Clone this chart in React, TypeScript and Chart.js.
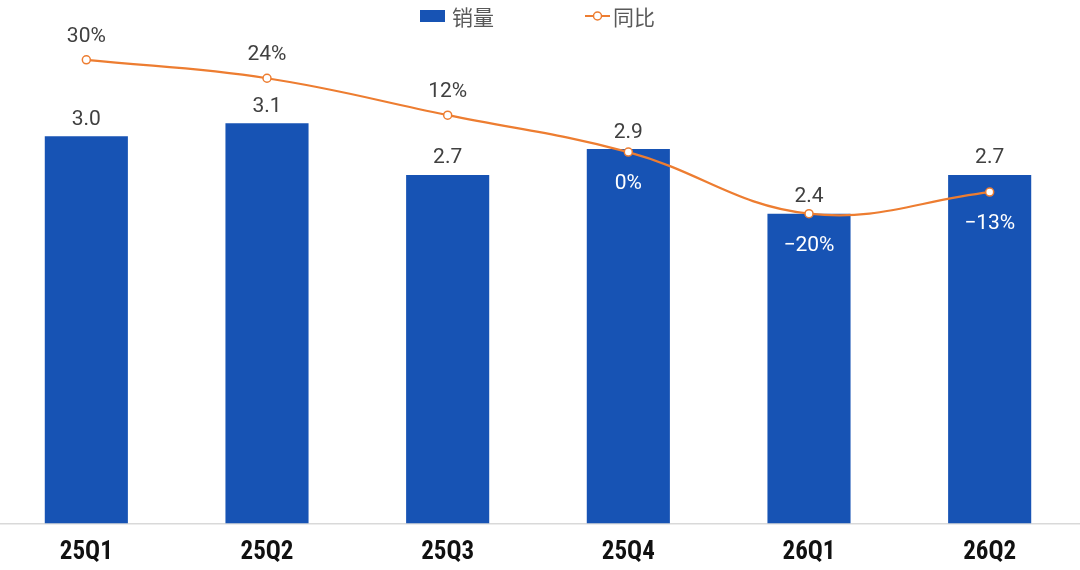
import { useEffect, useRef } from "react";
import { Chart, registerables } from "chart.js";

Chart.register(...registerables);

// ---- data ----
const categories = ["25Q1", "25Q2", "25Q3", "25Q4", "26Q1", "26Q2"];
const salesValues = [3.0, 3.1, 2.7, 2.9, 2.4, 2.7];
const yoyValues = [30, 24, 12, 0, -20, -13];
const seriesNames = ["销量", "同比"];

// ---- style ----
const BAR_COLOR = "#1753B4";
const LINE_COLOR = "#ED7D31";
const LABEL_COLOR = "#404040";
const LEGEND_COLOR = "#595959";
const AXIS_COLOR = "#D9D9D9";

// axis ranges (layout)
const Y_MAX = 3.823;
const Y1_MIN = -120.65;
const Y1_MAX = 39.68;

const fmtPct = (v: number) => (v < 0 ? "\u2212" + Math.abs(v) : String(v)) + "%";

const legendPlugin = {
  id: "customLegend",
  afterDraw(chart: any) {
    const ctx = chart.ctx as CanvasRenderingContext2D;
    const cx = chart.width / 2;
    const cy = 16;
    ctx.save();
    ctx.font = "21px 'Noto Sans CJK SC', sans-serif";
    ctx.textBaseline = "middle";
    ctx.textAlign = "left";
    // item 1: bar
    let x = cx - 118;
    ctx.fillStyle = BAR_COLOR;
    ctx.fillRect(x, cy - 6, 25, 12);
    ctx.fillStyle = LEGEND_COLOR;
    ctx.fillText(seriesNames[0], x + 32, cy + 1);
    // item 2: line
    x = cx + 47;
    ctx.strokeStyle = LINE_COLOR;
    ctx.lineWidth = 2;
    ctx.beginPath();
    ctx.moveTo(x, cy);
    ctx.lineTo(x + 25, cy);
    ctx.stroke();
    ctx.beginPath();
    ctx.arc(x + 12.5, cy, 4, 0, Math.PI * 2);
    ctx.fillStyle = "#fff";
    ctx.fill();
    ctx.lineWidth = 1.5;
    ctx.stroke();
    ctx.fillStyle = LEGEND_COLOR;
    ctx.fillText(seriesNames[1], x + 28, cy + 1);
    ctx.restore();
  },
};

const dataLabelPlugin = {
  id: "dataLabels",
  afterDatasetsDraw(chart: any) {
    const ctx = chart.ctx as CanvasRenderingContext2D;
    ctx.save();
    ctx.font = "21px Roboto, sans-serif";
    ctx.textAlign = "center";
    ctx.textBaseline = "alphabetic";
    const barMeta = chart.getDatasetMeta(0);
    barMeta.data.forEach((el: any, i: number) => {
      const { x, y } = el.getProps(["x", "y"], true);
      ctx.fillStyle = LABEL_COLOR;
      ctx.fillText(salesValues[i].toFixed(1), x, y - 11.5);
    });
    const lineMeta = chart.getDatasetMeta(1);
    lineMeta.data.forEach((el: any, i: number) => {
      const { x, y } = el.getProps(["x", "y"], true);
      const v = yoyValues[i];
      if (v > 0) {
        ctx.fillStyle = LABEL_COLOR;
        ctx.fillText(fmtPct(v), x, y - 18);
      } else {
        ctx.fillStyle = "#FFFFFF";
        ctx.fillText(fmtPct(v), x, y + 37);
      }
    });
    ctx.restore();
  },
};

export default function App() {
  const canvasRef = useRef<HTMLCanvasElement | null>(null);

  useEffect(() => {
    if (!canvasRef.current) return;
    const chart = new Chart(canvasRef.current, {
      data: {
        labels: categories,
        datasets: [
          {
            type: "bar",
            label: seriesNames[0],
            data: salesValues,
            backgroundColor: BAR_COLOR,
            yAxisID: "y",
            order: 2,
            barPercentage: 0.46,
            categoryPercentage: 1,
          },
          {
            type: "line",
            label: seriesNames[1],
            data: yoyValues,
            borderColor: LINE_COLOR,
            borderWidth: 2.2,
            tension: 0.4,
            pointRadius: 4,
            pointHoverRadius: 4,
            pointBackgroundColor: "#FFFFFF",
            pointBorderColor: LINE_COLOR,
            pointBorderWidth: 1.5,
            yAxisID: "y1",
            order: 1,
          },
        ],
      } as any,
      options: {
        animation: false,
        responsive: true,
        maintainAspectRatio: false,
        layout: { autoPadding: false, padding: { top: 30, left: 0, right: 0, bottom: 0 } },
        plugins: {
          legend: { display: false },
          tooltip: { enabled: false },
        },
        scales: {
          x: {
            grid: { display: false, drawTicks: false },
            border: { display: true, color: AXIS_COLOR, width: 1.5 },
            ticks: {
              color: "#111111",
              padding: 13,
              font: {
                family: "'Roboto Condensed', 'DejaVu Sans Condensed', Roboto, sans-serif",
                size: 25,
                weight: "bold condensed",
                lineHeight: "32.6px",
              },
            },
          },
          y: { display: false, min: 0, max: Y_MAX },
          y1: { display: false, min: Y1_MIN, max: Y1_MAX },
        },
      } as any,
      plugins: [dataLabelPlugin, legendPlugin],
    });
    return () => chart.destroy();
  }, []);

  return (
    <div style={{ position: "fixed", left: 0, top: 0, width: 1080, height: 570, overflow: "hidden", background: "#fff" }}>
      <div style={{ position: "absolute", left: -4, top: 0, width: 1084, height: 582 }}>
        <canvas ref={canvasRef} />
      </div>
    </div>
  );
}
